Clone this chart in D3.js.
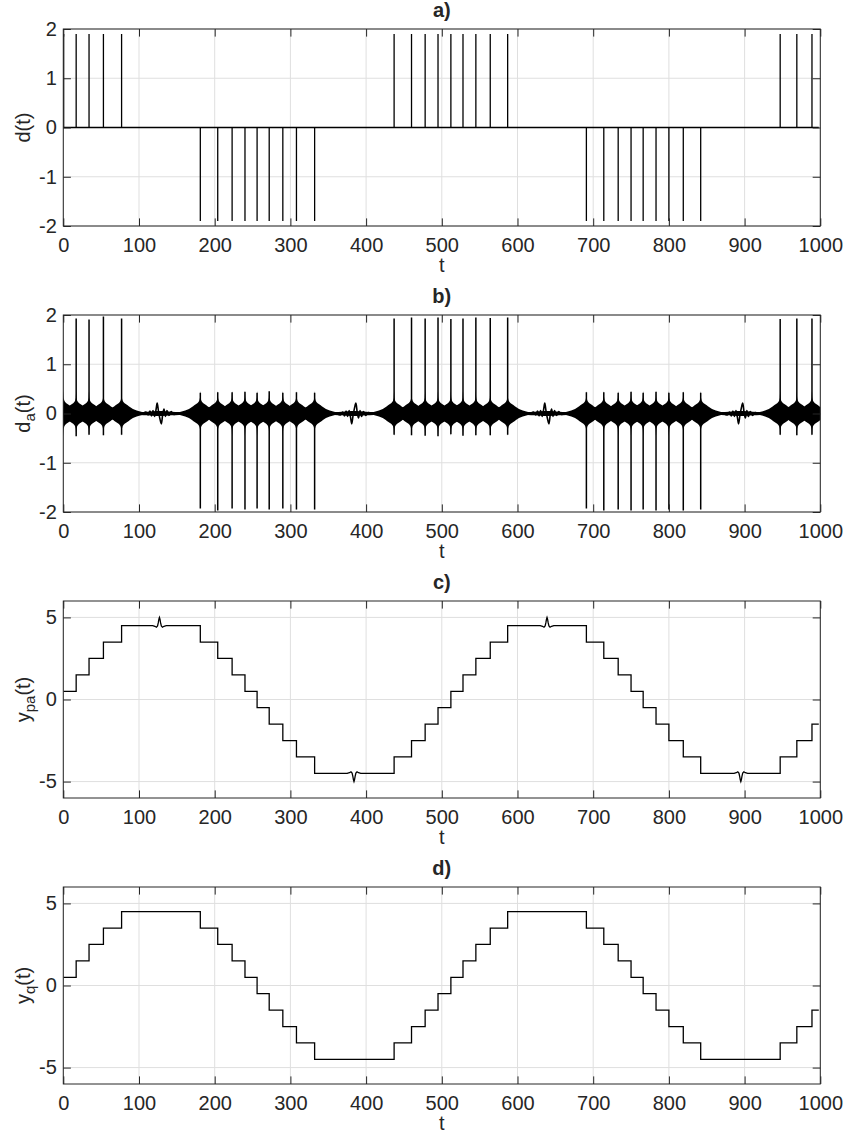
<!DOCTYPE html>
<html><head><meta charset="utf-8">
<script src="https://cdn.jsdelivr.net/npm/d3@7"></script>
<style>
body{margin:0;background:#fff}
svg{display:block}
text{font-family:"Liberation Sans",Arial,Helvetica,sans-serif;fill:#262626}
</style>
</head><body><svg id="chart" width="847" height="1141"></svg>
<script>
// ---------- data ----------
const xTicks = [0,100,200,300,400,500,600,700,800,900,1000];
const yTicksD = [-2,-1,0,1,2];
const yTicksY = [-5,0,5];
const panelTitles = ["a)","b)","c)","d)"];

// quantised signal y_q(t): step instants and levels
const stepTimes  = [0,17,34,53,77,181,204,223,240,256,272,290,308,332,437,460,478,495,512,528,545,564,587,691,714,733,750,766,783,800,819,842,947,969,989];
const stepLevels = [0.5,1.5,2.5,3.5,4.5,3.5,2.5,1.5,0.5,-0.5,-1.5,-2.5,-3.5,-4.5,-3.5,-2.5,-1.5,-0.5,0.5,1.5,2.5,3.5,4.5,3.5,2.5,1.5,0.5,-0.5,-1.5,-2.5,-3.5,-4.5,-3.5,-2.5,-1.5];
const tEnd = 998;

// d(t): impulses
const dTimes  = [0.5,17,34,53,77,181,204,223,240,256,272,290,308,332,437,460,478,495,512,528,545,564,587,691,714,733,750,766,783,800,819,842,947,969,989];
const dValues = [1.9,1.9,1.9,1.9,1.9,-1.9,-1.9,-1.9,-1.9,-1.9,-1.9,-1.9,-1.9,-1.9,1.9,1.9,1.9,1.9,1.9,1.9,1.9,1.9,1.9,-1.9,-1.9,-1.9,-1.9,-1.9,-1.9,-1.9,-1.9,-1.9,1.9,1.9,1.9];

// d_a(t): spike peaks and opposite overshoots
const daTimes   = [0,17,34,53,77,181,204,223,240,256,272,290,308,332,437,460,478,495,512,528,545,564,587,691,714,733,750,766,783,800,819,842,947,969,989];
const daPeaks   = [0.3,1.93,1.91,1.97,1.93,-1.93,-1.97,-1.93,-1.95,-1.93,-1.95,-1.93,-1.95,-1.95,1.93,1.95,1.93,1.95,1.92,1.93,1.95,1.94,1.95,-1.93,-1.97,-1.95,-1.97,-1.95,-1.97,-1.95,-1.97,-1.95,1.92,1.93,1.93];
const daCounter = [-0.3,-0.46,-0.43,-0.44,-0.43,0.42,0.43,0.43,0.44,0.42,0.45,0.42,0.43,0.42,-0.43,-0.44,-0.45,-0.46,-0.42,-0.45,-0.44,-0.44,-0.43,0.43,0.43,0.42,0.44,0.42,0.44,0.42,0.43,0.42,-0.43,-0.44,-0.43];
// oscillation envelope around each spike (offset in t, half-amplitude)
const cuspOffsets = [0,0.4,1,2,3,5,8,11,15,20,27];
const cuspAmps    = [0.45,0.33,0.28,0.245,0.225,0.2,0.17,0.13,0.09,0.06,0.03];
const baseBand = 0.03;

// small ringing at the plateaus
const plateauCenters = [127,384,639,895];
const plateauSigns   = [1,-1,1,-1];
const wiggleOffsets = [-22,-18,-15,-12.5,-10.5,-8.5,-6.5,-4.5,-3,-1.2,0.8,2.5,4.3,6,8,10,12.5,15.5,19,23];
const wiggleVals    = [0,0.03,-0.03,0.05,-0.05,0.06,-0.06,0.08,0.21,0.04,-0.12,-0.21,-0.02,0.09,-0.06,0.06,-0.04,0.04,-0.02,0];
const noiseOffsets = [-26,-16,-8,0,8,16,26];
const noiseAmps    = [0.03,0.038,0.045,0.05,0.045,0.038,0.03];
const bumpOffsets = [-9,-6,-4,-2.5,-1.5,-0.7,0,0.7,1.5,2.5,4,6,9];
const bumpVals    = [0,-0.04,-0.1,-0.02,0.18,0.4,0.5,0.4,0.18,-0.02,-0.1,-0.04,0];

// ---------- layout ----------
const svg = d3.select("#chart");
const L = 63.3, R = 820.3, PH = 197;
const tops = [29,315,601,887];
const FS = 20;
const FONT = '"Liberation Sans",Arial,Helvetica,sans-serif';
const axisColor = "#262626", gridColor = "#dfdfdf";
const x = d3.scaleLinear().domain([0,1000]).range([L,R]);
const fmt = d => String(d);

function panel(i, yDomain, yTicks, labelMain, labelSub){
  const top = tops[i], bot = top + PH;
  const y = d3.scaleLinear().domain(yDomain).range([bot, top]);
  const g = svg.append("g");
  // grid
  g.append("g").selectAll("line").data(xTicks).join("line")
    .attr("x1", d=>x(d)).attr("x2", d=>x(d)).attr("y1", top).attr("y2", bot)
    .attr("stroke", gridColor).attr("stroke-width", 1);
  g.append("g").selectAll("line").data(yTicks).join("line")
    .attr("x1", L).attr("x2", R).attr("y1", d=>y(d)).attr("y2", d=>y(d))
    .attr("stroke", gridColor).attr("stroke-width", 1);
  // clip
  const cid = "clip"+i;
  svg.append("clipPath").attr("id", cid).append("rect")
    .attr("x", L).attr("y", top).attr("width", R-L).attr("height", PH);
  const data = g.append("g").attr("clip-path", `url(#${cid})`);
  // axes (ticks inward on all four sides)
  const tk = 7.6;
  const ax = g.append("g");
  ax.append("g").attr("transform", `translate(0,${bot})`)
    .call(d3.axisBottom(x).tickValues(xTicks).tickSizeInner(-tk).tickSizeOuter(0).tickPadding(11.8).tickFormat(fmt));
  ax.append("g").attr("transform", `translate(0,${top})`)
    .call(d3.axisTop(x).tickValues(xTicks).tickSizeInner(-tk).tickSizeOuter(0).tickFormat(""));
  ax.append("g").attr("transform", `translate(${L},0)`)
    .call(d3.axisLeft(y).tickValues(yTicks).tickSizeInner(-tk).tickSizeOuter(0).tickPadding(6.5).tickFormat(fmt));
  ax.append("g").attr("transform", `translate(${R},0)`)
    .call(d3.axisRight(y).tickValues(yTicks).tickSizeInner(-tk).tickSizeOuter(0).tickFormat(""));
  ax.selectAll("g").attr("font-size", FS).attr("font-family", FONT);
  ax.selectAll(".domain").remove();
  ax.selectAll(".tick line").attr("stroke", axisColor).attr("stroke-width", 1);
  ax.selectAll(".tick text").attr("fill", axisColor);
  g.append("rect").attr("x", L).attr("y", top).attr("width", R-L).attr("height", PH)
    .attr("fill", "none").attr("stroke", axisColor).attr("stroke-width", 1);
  // title
  g.append("text").attr("x", (L+R)/2).attr("y", top-12).attr("text-anchor","middle")
    .attr("font-size", FS).attr("font-weight","bold").text(panelTitles[i]);
  // x label
  g.append("text").attr("x", (L+R)/2).attr("y", bot+46).attr("text-anchor","middle")
    .attr("font-size", FS).text("t");
  // y label
  const yl = g.append("text").attr("transform", `translate(30,${(top+bot)/2}) rotate(-90)`)
    .attr("text-anchor","middle").attr("font-size", FS);
  if(labelSub){
    yl.append("tspan").text(labelMain[0]);
    yl.append("tspan").attr("dy", 5).attr("font-size", 15).text(labelSub);
    yl.append("tspan").attr("dy", -5).text(labelMain.slice(1));
  } else yl.text(labelMain);
  return {data, y};
}

const lineGen = (y)=> d3.line().x(d=>x(d[0])).y(d=>y(d[1]));

// ---------- panel a ----------
{
  const {data, y} = panel(0, [-2,2], yTicksD, "d(t)");
  const pts = [[0,0]];
  dTimes.forEach((t,k)=>{ pts.push([t,0],[t,dValues[k]],[t,0]); });
  pts.push([tEnd,0]);
  data.append("path").attr("d", lineGen(y)(pts)).attr("fill","none")
    .attr("stroke","#000").attr("stroke-width",1.3);
}

// ---------- panel b ----------
{
  const {data, y} = panel(1, [-2,2], yTicksD, "d(t)", "a");
  const area = d3.area().x(d=>x(d[0])).y0(d=>y(-d[1])).y1(d=>y(d[1])).curve(d3.curveMonotoneX);
  // thin base band
  data.append("path").attr("d", area([[0,baseBand],[tEnd,baseBand]])).attr("fill","#000");
  // noisy band around plateau ringing
  plateauCenters.forEach(c=>{
    data.append("path").attr("d", area(noiseOffsets.map((o,j)=>[c+o, noiseAmps[j]]))).attr("fill","#000");
  });
  // oscillation envelopes around spikes
  daTimes.forEach(t=>{
    const pts = [];
    for(let j=cuspOffsets.length-1;j>0;j--) pts.push([t-cuspOffsets[j], cuspAmps[j]]);
    for(let j=0;j<cuspOffsets.length;j++) pts.push([t+cuspOffsets[j], cuspAmps[j]]);
    data.append("path").attr("d", area(pts)).attr("fill","#000");
  });
  // spikes
  data.append("g").selectAll("line").data(daTimes).join("line")
    .attr("x1", t=>x(t)).attr("x2", t=>x(t))
    .attr("y1", (t,k)=>y(daCounter[k])).attr("y2", (t,k)=>y(daPeaks[k]))
    .attr("stroke","#000").attr("stroke-width",1.5);
  // ringing at plateaus
  plateauCenters.forEach((c,k)=>{
    const pts = wiggleOffsets.map((o,j)=>[c+o, plateauSigns[k]*wiggleVals[j]]);
    data.append("path").attr("d", lineGen(y).curve(d3.curveCatmullRom)(pts))
      .attr("fill","none").attr("stroke","#000").attr("stroke-width",1.6);
  });
}

// build the quantised staircase (optionally with plateau bumps)
function staircase(withBumps){
  const pts = [];
  for(let k=0;k<stepTimes.length;k++){
    const t0 = stepTimes[k], t1 = k+1<stepTimes.length ? stepTimes[k+1] : tEnd;
    const lv = stepLevels[k];
    pts.push([t0, lv]);
    if(withBumps){
      plateauCenters.forEach((c,m)=>{
        if(c>t0 && c<t1) bumpOffsets.forEach((o,j)=>pts.push([c+o, lv + plateauSigns[m]*bumpVals[j]]));
      });
    }
    pts.push([t1, lv]);
  }
  return pts;
}

// ---------- panel c ----------
{
  const {data, y} = panel(2, [-6,6], yTicksY, "y(t)", "pa");
  data.append("path").attr("d", lineGen(y)(staircase(true))).attr("fill","none")
    .attr("stroke","#000").attr("stroke-width",1.3);
}
// ---------- panel d ----------
{
  const {data, y} = panel(3, [-6,6], yTicksY, "y(t)", "q");
  data.append("path").attr("d", lineGen(y)(staircase(false))).attr("fill","none")
    .attr("stroke","#000").attr("stroke-width",1.3);
}
</script>
</body></html>
